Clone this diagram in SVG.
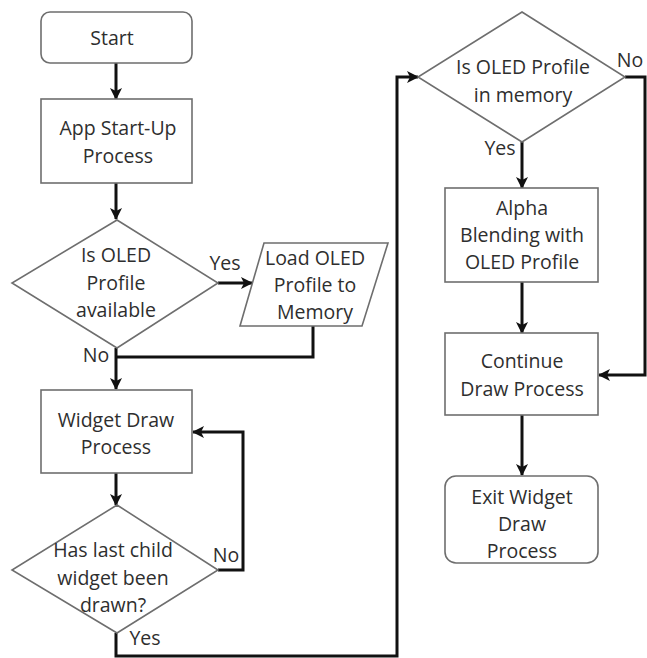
<svg xmlns="http://www.w3.org/2000/svg" width="647" height="658" viewBox="0 0 647 658">
  <style>
    .box { fill: #fff; stroke: #6e6e6e; stroke-width: 1.6; }
    .lbl { font-family: "Open Sans", "Liberation Sans", sans-serif; font-size: 19.5px; fill: #2e2e2e; text-anchor: middle; }
    .edge { fill: none; stroke: #111; stroke-width: 3; }
  </style>
  <defs>
    <marker id="arrow" viewBox="0 0 12 12" refX="11" refY="6" markerWidth="12" markerHeight="12" markerUnits="userSpaceOnUse" orient="auto">
      <path d="M0,0 L12,6 L0,12 L3,6 Z" fill="#111"/>
    </marker>
  </defs>
  <rect width="647" height="658" fill="#fff"/>

  <g id="connectors">
    <path class="edge" d="M116,63 V99" marker-end="url(#arrow)"/>
    <path class="edge" d="M116,183 V219" marker-end="url(#arrow)"/>
    <path class="edge" d="M218,283 H252" marker-end="url(#arrow)"/>
    <path class="edge" d="M313,326 V357 H116"/>
    <path class="edge" d="M116,348 V389" marker-end="url(#arrow)"/>
    <path class="edge" d="M116,473 V505" marker-end="url(#arrow)"/>
    <path class="edge" d="M218,570 H243 V432 H193" marker-end="url(#arrow)"/>
    <path class="edge" d="M116,633 V656 H397 V77 H418" marker-end="url(#arrow)"/>
    <path class="edge" d="M522,142 V188" marker-end="url(#arrow)"/>
    <path class="edge" d="M625,77 H645 V375 H599" marker-end="url(#arrow)"/>
    <path class="edge" d="M522,282 V333" marker-end="url(#arrow)"/>
    <path class="edge" d="M522,415 V475" marker-end="url(#arrow)"/>
  </g>

  <g id="start">
    <rect class="box" x="41" y="12" width="151" height="51" rx="9"/>
    <text class="lbl" x="112" y="45">Start</text>
  </g>
  <g id="app-startup">
    <rect class="box" x="41" y="99" width="151" height="84"/>
    <text class="lbl" x="118" y="135">App Start-Up</text>
    <text class="lbl" x="118" y="163">Process</text>
  </g>
  <g id="oled-available">
    <polygon class="box" points="117,220 218,283 117,348 12,283"/>
    <text class="lbl" x="116" y="262">Is OLED</text>
    <text class="lbl" x="116" y="290">Profile</text>
    <text class="lbl" x="116" y="317">available</text>
    <text class="lbl" x="225" y="270">Yes</text>
    <text class="lbl" x="96" y="362">No</text>
  </g>
  <g id="load-profile">
    <polygon class="box" points="264,243 388,243 362,326 240,326"/>
    <text class="lbl" x="315" y="265">Load OLED</text>
    <text class="lbl" x="315" y="292">Profile to</text>
    <text class="lbl" x="315" y="319">Memory</text>
  </g>
  <g id="widget-draw">
    <rect class="box" x="41" y="390" width="151" height="83"/>
    <text class="lbl" x="116" y="427">Widget Draw</text>
    <text class="lbl" x="116" y="454">Process</text>
  </g>
  <g id="last-child">
    <polygon class="box" points="117,505 218,570 117,633 12,570"/>
    <text class="lbl" x="113" y="557">Has last child</text>
    <text class="lbl" x="113" y="585">widget been</text>
    <text class="lbl" x="113" y="612">drawn?</text>
    <text class="lbl" x="226" y="562">No</text>
    <text class="lbl" x="145" y="645">Yes</text>
  </g>
  <g id="in-memory">
    <polygon class="box" points="522,12 625,77 522,142 418,77"/>
    <text class="lbl" x="523" y="74">Is OLED Profile</text>
    <text class="lbl" x="523" y="102">in memory</text>
    <text class="lbl" x="630" y="67">No</text>
    <text class="lbl" x="500" y="155">Yes</text>
  </g>
  <g id="alpha-blend">
    <rect class="box" x="445" y="188" width="153" height="94"/>
    <text class="lbl" x="522" y="215">Alpha</text>
    <text class="lbl" x="522" y="242">Blending with</text>
    <text class="lbl" x="522" y="269">OLED Profile</text>
  </g>
  <g id="continue-draw">
    <rect class="box" x="445" y="333" width="153" height="82"/>
    <text class="lbl" x="522" y="368">Continue</text>
    <text class="lbl" x="522" y="396">Draw Process</text>
  </g>
  <g id="exit">
    <rect class="box" x="445" y="476" width="153" height="87" rx="11"/>
    <text class="lbl" x="522" y="504">Exit Widget</text>
    <text class="lbl" x="522" y="531">Draw</text>
    <text class="lbl" x="522" y="558">Process</text>
  </g>
</svg>
